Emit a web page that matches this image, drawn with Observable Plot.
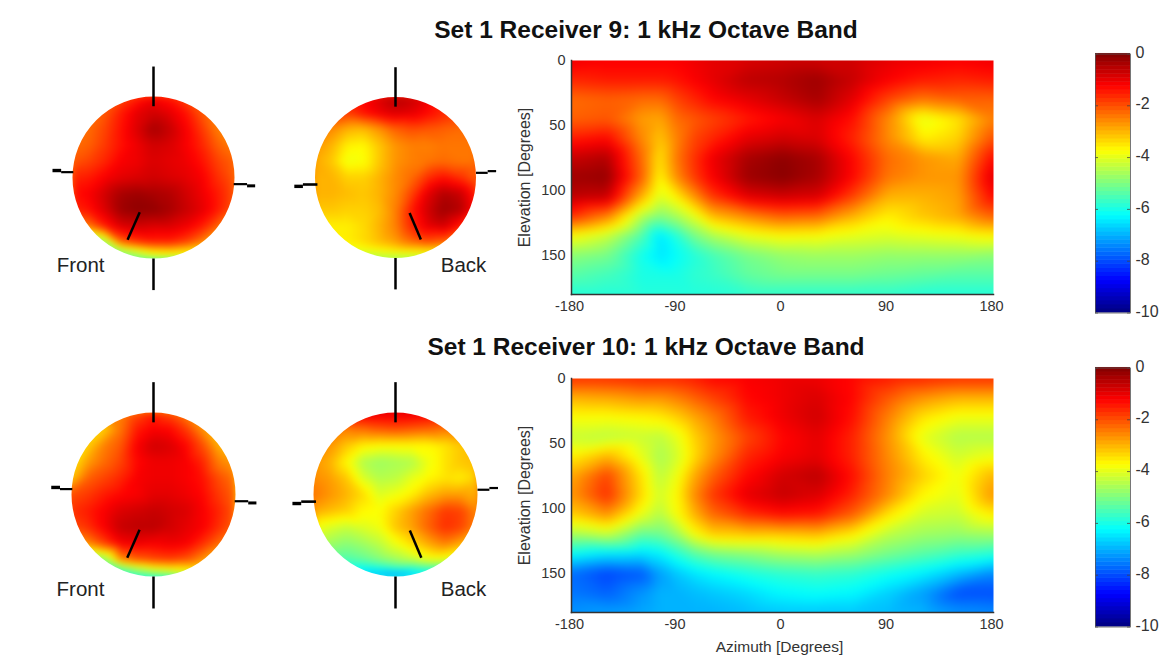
<!DOCTYPE html>
<html><head><meta charset="utf-8">
<script src="https://cdn.jsdelivr.net/npm/d3@7"></script>
<script src="https://cdn.jsdelivr.net/npm/@observablehq/plot@0.6"></script>
<style>
html,body{margin:0;background:#fff}
#c{position:relative;width:1175px;height:655px;overflow:hidden;font-family:"Liberation Sans",Arial,sans-serif}
#c>svg,#c>div{position:absolute}
.t{font-weight:bold;font-size:24.5px;color:#111;white-space:nowrap;transform:translateX(-50%)}
</style></head><body><div id="c"></div>
<script>
const titles = ["Set 1 Receiver 9: 1 kHz Octave Band", "Set 1 Receiver 10: 1 kHz Octave Band"];
const azimuths = [-180,-150,-120,-105,-90,-75,-60,-30,0,30,60,90,120,150,180];
const elevations = [0,15,30,45,60,75,90,105,120,135,150,165,180];
const azTicks = [-180,-90,0,90,180];
const elTicks = [0,50,100,150];
const barTicks = [0,-2,-4,-6,-8,-10];
const dbStops = [-10,-8.75,-7.5,-6.25,-5,-3.75,-2.5,-1.25,0];
const jetStops = ["#000080","#0000ff","#0080ff","#00ffff","#80ff80","#ffff00","#ff8000","#ff0000","#800000"];
const sphereAxis = [-1,-0.8,-0.6,-0.4,-0.2,0,0.2,0.4,0.6,0.8,1];
const sphereRows = [1,0.8,0.6,0.4,0.2,0,-0.2,-0.4,-0.6,-0.8,-0.9,-1];

const map9 = [
[-1.1,-1.2,-1.2,-1.2,-1.2,-1.1,-1,-0.9,-0.8,-0.8,-0.8,-1,-1.1,-1.2,-1.1],
[-1.6,-1.5,-1.5,-1.5,-1.4,-1.2,-1,-0.6,-0.5,-0.3,-0.7,-1.2,-1.5,-1.6,-1.5],
[-2.3,-2.2,-2.3,-2.3,-1.9,-1.6,-1.3,-1,-0.7,-0.4,-1,-1.9,-2.4,-2.2,-2.2],
[-2.2,-2.1,-2.8,-2.9,-2.3,-2.1,-1.9,-1.5,-1.2,-0.9,-1.4,-2.6,-4,-3.5,-2.5],
[-1.5,-1.3,-2.6,-3.2,-2.5,-1.9,-1.6,-1,-0.8,-0.9,-1.6,-2.6,-3.6,-3.3,-2],
[-0.7,-0.5,-2.3,-3.5,-2.4,-1.7,-1.1,-0.4,-0.15,-0.4,-1.3,-2.3,-2.7,-2.9,-1.3],
[-0.3,-0.2,-2.2,-3.7,-2.6,-1.8,-1.2,-0.3,-0.1,-0.4,-1.3,-2.4,-2.7,-2.7,-0.9],
[-0.6,-0.7,-3,-4.1,-3.6,-2.7,-1.8,-1,-0.8,-0.9,-1.9,-3,-3,-2.8,-1.3],
[-1.7,-2.5,-4.5,-5,-4.6,-4,-3.1,-2.6,-2.2,-2.3,-3,-3.6,-3.2,-2.9,-2.2],
[-3.8,-4.3,-5.5,-6.5,-5.9,-5.1,-4.6,-4,-3.75,-3.8,-4,-4.1,-4,-3.9,-3.7],
[-4.9,-5.1,-6.1,-6.5,-6.2,-5.9,-5.6,-5.1,-4.8,-4.7,-4.7,-4.8,-4.8,-4.8,-4.9],
[-5.4,-5.6,-6,-6,-6,-5.8,-5.7,-5.3,-5.1,-5.1,-5.1,-5.2,-5.3,-5.4,-5.4],
[-5.9,-5.9,-5.9,-5.9,-5.9,-5.9,-5.9,-5.8,-5.8,-5.8,-5.8,-5.8,-5.9,-5.9,-5.9]];
const map10 = [
[-1.7,-1.7,-1.6,-1.6,-1.6,-1.5,-1.3,-1.2,-1.1,-1.1,-1.3,-1.5,-1.6,-1.7,-1.7],
[-3,-2.9,-2.7,-2.7,-2.5,-2.2,-1.9,-1.3,-1.1,-0.9,-1.3,-2.1,-2.7,-3,-3],
[-3.8,-3.8,-3.7,-3.6,-3.3,-2.9,-2.5,-1.5,-1.1,-0.8,-1.4,-2.5,-3.5,-3.9,-3.9],
[-4.3,-4.4,-4.3,-4.4,-4,-3.3,-2.8,-1.9,-1.3,-1,-1.6,-2.7,-4,-4.5,-4.5],
[-3.6,-3,-4,-4.6,-4.2,-3.4,-2.7,-1.6,-1.2,-1,-1.6,-2.6,-3.6,-4.2,-3.9],
[-2.9,-1.9,-3.5,-4.4,-3.9,-2.9,-2.2,-1.3,-0.8,-0.6,-1.4,-2.5,-3.3,-3.9,-3],
[-2.7,-1.7,-3.4,-4.2,-3.7,-2.6,-1.8,-1,-0.7,-0.9,-1.6,-2.6,-3.7,-4,-2.7],
[-3.3,-2.7,-4,-4.5,-3.8,-3,-2.3,-1.7,-1.4,-1.5,-2.2,-3.5,-4.2,-4.3,-3.6],
[-4.6,-4.3,-5.3,-5.2,-4.7,-3.8,-3.3,-3.2,-3.2,-3.1,-3.6,-4.4,-4.7,-4.8,-4.7],
[-6.2,-6.5,-6.6,-6.4,-5.9,-5.4,-5.1,-4.9,-4.6,-4.5,-4.7,-5.1,-5.4,-5.7,-5.9],
[-7.7,-8.1,-7.9,-7.2,-6.8,-6.5,-6.3,-6,-5.8,-5.7,-5.8,-6.1,-6.4,-6.9,-7.4],
[-7.6,-7.8,-7.3,-7,-7,-6.9,-6.8,-6.6,-6.3,-6.2,-6.3,-6.7,-7.2,-8,-8],
[-7.3,-7.2,-7.1,-7,-7,-7,-7,-6.9,-6.8,-6.8,-6.8,-6.9,-7,-7.3,-7.4]];

const front9 = [
[-2,-2,-2,-2,-1.6,-1.2,-1.5,-2,-2,-2,-2],
[-2.3,-2.3,-2.1,-1.5,-1,-0.8,-1,-1.4,-2.1,-2.4,-2.4],
[-2.4,-2.3,-1.9,-1.4,-0.9,-0.4,-0.7,-1.2,-1.8,-2.5,-2.6],
[-2.3,-2.2,-1.8,-1.4,-1.1,-0.8,-0.9,-1.2,-1.6,-2.2,-2.5],
[-2.1,-1.9,-1.6,-1.2,-1.1,-0.9,-1,-1.1,-1.4,-1.9,-2.2],
[-1.6,-1.5,-1.2,-1,-0.9,-0.8,-0.9,-1,-1.2,-1.7,-2.1],
[-1.4,-1.2,-0.8,-0.4,-0.3,-0.4,-0.5,-0.8,-1.1,-1.5,-2],
[-1.6,-1.4,-0.9,-0.3,-0.15,-0.2,-0.4,-0.7,-1,-1.5,-2.1],
[-2.7,-2.4,-1.5,-0.9,-0.8,-0.9,-0.9,-1.1,-1.5,-2.2,-3],
[-5.5,-5.5,-4.8,-2.3,-1.8,-1.6,-1.6,-1.9,-2.5,-3.5,-3.5],
[-5,-5,-5,-4.5,-3.9,-3.3,-3.2,-3.4,-3.6,-3.6,-3.6],
[-5.5,-5.5,-5.5,-5.5,-5,-4.4,-4.2,-4,-4,-4,-4]];
const back9 = [
[-1.5,-1.5,-1.5,-1.3,-0.9,-0.5,-0.7,-1.1,-1.6,-1.7,-1.7],
[-2,-2,-1.8,-1.4,-1.1,-0.9,-1,-1.3,-1.6,-2,-2],
[-2.4,-2.6,-3,-3.1,-2.7,-2.2,-2,-2.1,-2.2,-2.3,-2.3],
[-2.7,-3,-3.6,-3.7,-3.2,-2.7,-2.5,-2.5,-2.4,-2.4,-2.4],
[-2.9,-3.2,-3.9,-3.8,-3.2,-2.7,-2.5,-2.4,-2.3,-2.4,-2.4],
[-3,-3,-3.3,-3.3,-3,-2.6,-2.3,-1.7,-1.4,-1.7,-2.2],
[-3,-3,-3.1,-3.2,-3,-2.6,-1.9,-1,-0.5,-0.7,-1.5],
[-3.2,-3.2,-3.3,-3.3,-3.1,-2.5,-1.5,-0.8,-0.3,-0.5,-1.3],
[-3.6,-3.6,-3.6,-3.4,-3,-2.5,-1.6,-1,-0.8,-1.4,-2.6],
[-3.7,-3.7,-3.6,-3.4,-3.1,-2.8,-2.3,-2,-2.2,-3,-3.5],
[-4,-4,-4,-3.9,-3.7,-3.5,-3.4,-3.3,-3.5,-3.8,-4],
[-4,-4,-4.5,-4.5,-4.6,-4.6,-4.5,-4.4,-4,-4,-4]];
const front10 = [
[-2.6,-2.6,-2.6,-2.6,-2,-1.5,-2,-2.6,-2.6,-2.6,-2.6],
[-3.3,-3.3,-3.3,-2.4,-1.5,-1.2,-1.3,-1.8,-2.7,-3.2,-3.2],
[-3.4,-3.3,-2.5,-2.1,-1.2,-0.8,-0.9,-1.3,-2,-3,-3.2],
[-3.6,-2.8,-2.3,-1.9,-1.3,-1.1,-1.1,-1.2,-1.6,-2.5,-2.8],
[-3.2,-2.2,-1.9,-1.6,-1.2,-1.1,-1.1,-1.2,-1.4,-2,-2.4],
[-2,-1.8,-1.5,-1.3,-1.2,-1,-1,-1.1,-1.3,-1.8,-2.2],
[-1.7,-1.5,-1.2,-0.9,-0.8,-0.7,-0.8,-0.9,-1.2,-1.6,-2.1],
[-2,-1.7,-1.2,-0.7,-0.6,-0.6,-0.8,-1,-1.2,-1.7,-2.2],
[-3,-2.6,-1.9,-1.2,-1.1,-1.2,-1.1,-1.2,-1.7,-2.3,-2.8],
[-5.5,-5.3,-5,-2.7,-2.2,-2,-1.9,-2.1,-2.7,-3.4,-3.7],
[-5.5,-5.5,-5.5,-5.2,-4.4,-3.8,-3.6,-3.5,-3.5,-3.5,-3.5],
[-6,-6,-6,-6,-5.8,-5.5,-5.2,-4.5,-4.2,-4,-4]];
const back10 = [
[-1,-1,-1,-1,-1,-1,-1,-1.1,-1.2,-1.3,-1.3],
[-2.5,-2.5,-2.5,-2.3,-2.1,-2,-2.1,-2.2,-2.4,-2.5,-2.5],
[-2.5,-2.7,-3.2,-3.6,-3.7,-3.7,-3.7,-3.7,-3.5,-3.2,-3],
[-2.7,-3,-3.7,-4.5,-4.7,-4.6,-4.5,-3.9,-3.5,-3.2,-3.1],
[-2.6,-2.8,-3.2,-4.1,-4.5,-4.4,-4,-3.7,-3.5,-3.6,-3.3],
[-2.4,-2.7,-3,-3.4,-4.1,-3.9,-3.6,-3.1,-2.8,-2.8,-3],
[-2.9,-3.1,-3.3,-3.7,-3.8,-3.3,-2.8,-2.3,-1.8,-1.9,-2.6],
[-3.8,-4.1,-4.3,-4.1,-3.9,-3.2,-2.8,-2.2,-1.7,-1.9,-2.6],
[-4.4,-4.7,-4.9,-4.7,-4.4,-3.9,-3.4,-2.9,-2.5,-2.9,-3.6],
[-5.2,-5.5,-5.5,-5.3,-5,-4.7,-4.4,-4,-4,-4.4,-5],
[-6,-6,-6,-6.2,-6,-5.7,-5.8,-5.6,-5.5,-5.5,-5.5],
[-6,-6,-6,-6.6,-7.2,-7.6,-7,-6.5,-6,-5.5,-5.5]];

// whiskers in sphere-radius units: x1,y1,x2,y2,width
const frontWhiskers = [[0,1.37,0,0.88,2.5],[0,-1,0,-1.39,2.5],[-1.247,0.086,-1.14,0.086,3.4],[-1.14,0.066,-0.99,0.066,2.2],[0.99,-0.082,1.155,-0.082,2.2],[1.155,-0.103,1.255,-0.103,3],[-0.17,-0.43,-0.32,-0.77,2.5]];
const backWhiskers = [[0,1.37,0,0.88,2.5],[0,-1,0,-1.39,2.5],[-1.257,-0.11,-1.15,-0.11,3.4],[-1.15,-0.087,-0.97,-0.087,2.6],[1,0.058,1.145,0.058,2.2],[1.145,0.079,1.25,0.079,2.2],[0.175,-0.44,0.315,-0.77,2.5]];

const color = {type:"linear", domain:dbStops, range:jetStops, clamp:true};
const font = '"Liberation Sans",Arial,sans-serif';
const root = document.getElementById("c");
function place(el,left,top){el.style.left=left+"px";el.style.top=top+"px";el.style.background="transparent";root.appendChild(el);}
const cells = (rows,xs,ys)=>rows.flatMap((r,j)=>r.map((v,i)=>({x:xs[i],y:ys[j],v})));

function sphere(rows,whiskers,cx,cy,R,label,lx,ly){
  const S=120, d=S/R;
  const p=Plot.plot({width:2*S,height:2*S,margin:0,x:{domain:[-d,d],axis:null},y:{domain:[-d,d],axis:null},color,
    style:{background:"transparent",fontFamily:font},
    marks:[
      Plot.raster(cells(rows,sphereAxis,sphereRows),{x:"x",y:"y",fill:"v",interpolate:"barycentric",pixelSize:1,blur:3}),
      Plot.dot([0],{frameAnchor:"middle",r:R+60,strokeWidth:120,stroke:"white",fill:"none"}),
      Plot.link(whiskers,{x1:d=>d[0],y1:d=>d[1],x2:d=>d[2],y2:d=>d[3],strokeWidth:d=>d[4],stroke:"#000"}),
      Plot.text([label],{x:lx,y:ly,text:d=>d,fontSize:20.5,fill:"#222"})
    ]});
  place(p,cx-S,cy-S);
}
function heat(rows,left,top,withX){
  const mb=withX?48:30;
  const p=Plot.plot({width:503,height:15+234+mb,marginLeft:61,marginRight:20,marginTop:15,marginBottom:mb,
    x:{domain:[-180,180]},y:{domain:[180,0]},color,
    style:{background:"transparent",fontFamily:font,fontSize:"14.5px",color:"#333",overflow:"visible"},
    marks:[
      Plot.raster(cells(rows,azimuths,elevations),{x:"x",y:"y",fill:"v",interpolate:"barycentric",pixelSize:1,blur:4}),
      Plot.axisX({ticks:azTicks,tickSize:0,tickPadding:6,dx:-2,tickFormat:d=>String(d),label:null}),
      Plot.axisY({ticks:elTicks,tickSize:0,tickPadding:6,tickFormat:d=>String(d),label:null}),
      Plot.text(["Elevation [Degrees]"],{frameAnchor:"left",textAnchor:"middle",rotate:-90,dx:-47,fontSize:16,fill:"#333"}),
      withX?Plot.text(["Azimuth [Degrees]"],{frameAnchor:"bottom",dx:-3,dy:35,lineAnchor:"middle",fontSize:15.5,fill:"#333"}):null,
      Plot.frame({anchor:"left",stroke:"#333",strokeWidth:1.5}),
      Plot.frame({anchor:"bottom",stroke:"#333",strokeWidth:1.5})
    ]});
  place(p,left,top);
}
function bar(left,top){
  const levels=d3.range(64).map(i=>-10+i*10/64);
  const p=Plot.plot({width:100,height:285,marginLeft:20,marginRight:45,marginTop:13.5,marginBottom:12.5,
    x:{domain:[0,1],axis:null},y:{domain:[-10,0]},color,
    style:{background:"transparent",fontFamily:font,fontSize:"16px",color:"#333"},
    marks:[
      Plot.rect(levels,{y1:d=>d,y2:d=>d+10/64+0.02,fill:d=>d+5/64}),
      Plot.axisY({anchor:"right",ticks:barTicks,tickSize:0,tickPadding:5,dy:-1.5,tickFormat:d=>String(d),label:null}),
      Plot.tickY(barTicks,{y:d=>d,insetLeft:0,insetRight:32,stroke:"#444",strokeWidth:0.8}),
      Plot.tickY(barTicks,{y:d=>d,insetLeft:32,insetRight:0,stroke:"#444",strokeWidth:0.8}),
      Plot.frame({stroke:"#555",strokeWidth:0.8})
    ]});
  place(p,left,top);
}
function title(text,y){const t=document.createElement("div");t.className="t";t.textContent=text;t.style.left="646px";t.style.top=y+"px";root.appendChild(t);}

title(titles[0],16);
title(titles[1],333);
sphere(front9,frontWhiskers,152.7,176.7,81,"Front",-0.9,-1.09);
sphere(back9,backWhiskers,394.5,176.7,80.5,"Back",0.845,-1.09);
sphere(front10,frontWhiskers,152.7,494,82,"Front",-0.89,-1.16);
sphere(back10,backWhiskers,394.5,494,82,"Back",0.83,-1.16);
heat(map9,510,45,false);
heat(map10,510,363,true);
bar(1075,40);
bar(1075,354);
</script></body></html>
